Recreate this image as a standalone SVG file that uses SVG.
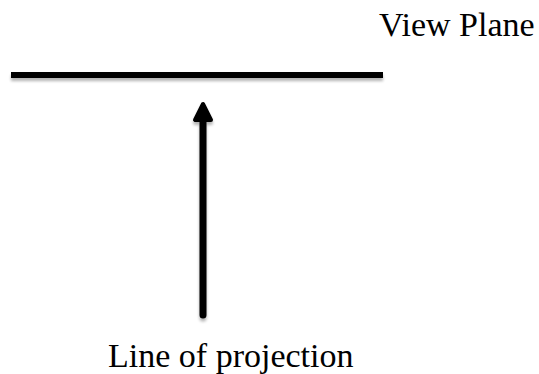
<svg xmlns="http://www.w3.org/2000/svg" width="539" height="374" viewBox="0 0 539 374">
<style>
text{font-family:"Liberation Serif","Times New Roman",serif;font-size:34px;fill:#000}
.bar{fill:#000}
</style>
<defs>
<filter id="sh" filterUnits="userSpaceOnUse" x="0" y="0" width="539" height="374">
<feGaussianBlur in="SourceAlpha" stdDeviation="1.5"/>
<feOffset dx="0" dy="3" result="b"/>
<feComponentTransfer><feFuncA type="linear" slope="0.3"/></feComponentTransfer>
<feMerge><feMergeNode/><feMergeNode in="SourceGraphic"/></feMerge>
</filter>
</defs>
<rect width="539" height="374" fill="#fff"/>
<g id="view-plane">
<rect class="bar" x="11" y="72" width="372" height="6" filter="url(#sh)"/>
<text x="379" y="36">View Plane</text>
</g>
<g id="connectors">
<g filter="url(#sh)">
<line x1="203" y1="118" x2="203" y2="315" stroke="#000" stroke-width="7" stroke-linecap="round"/>
<polygon points="203,104 195,120 211,120" fill="#000" stroke="#000" stroke-width="4" stroke-linejoin="round"/>
</g>
</g>
<g id="line-of-projection">
<text x="108" y="367">Line of projection</text>
</g>
</svg>
